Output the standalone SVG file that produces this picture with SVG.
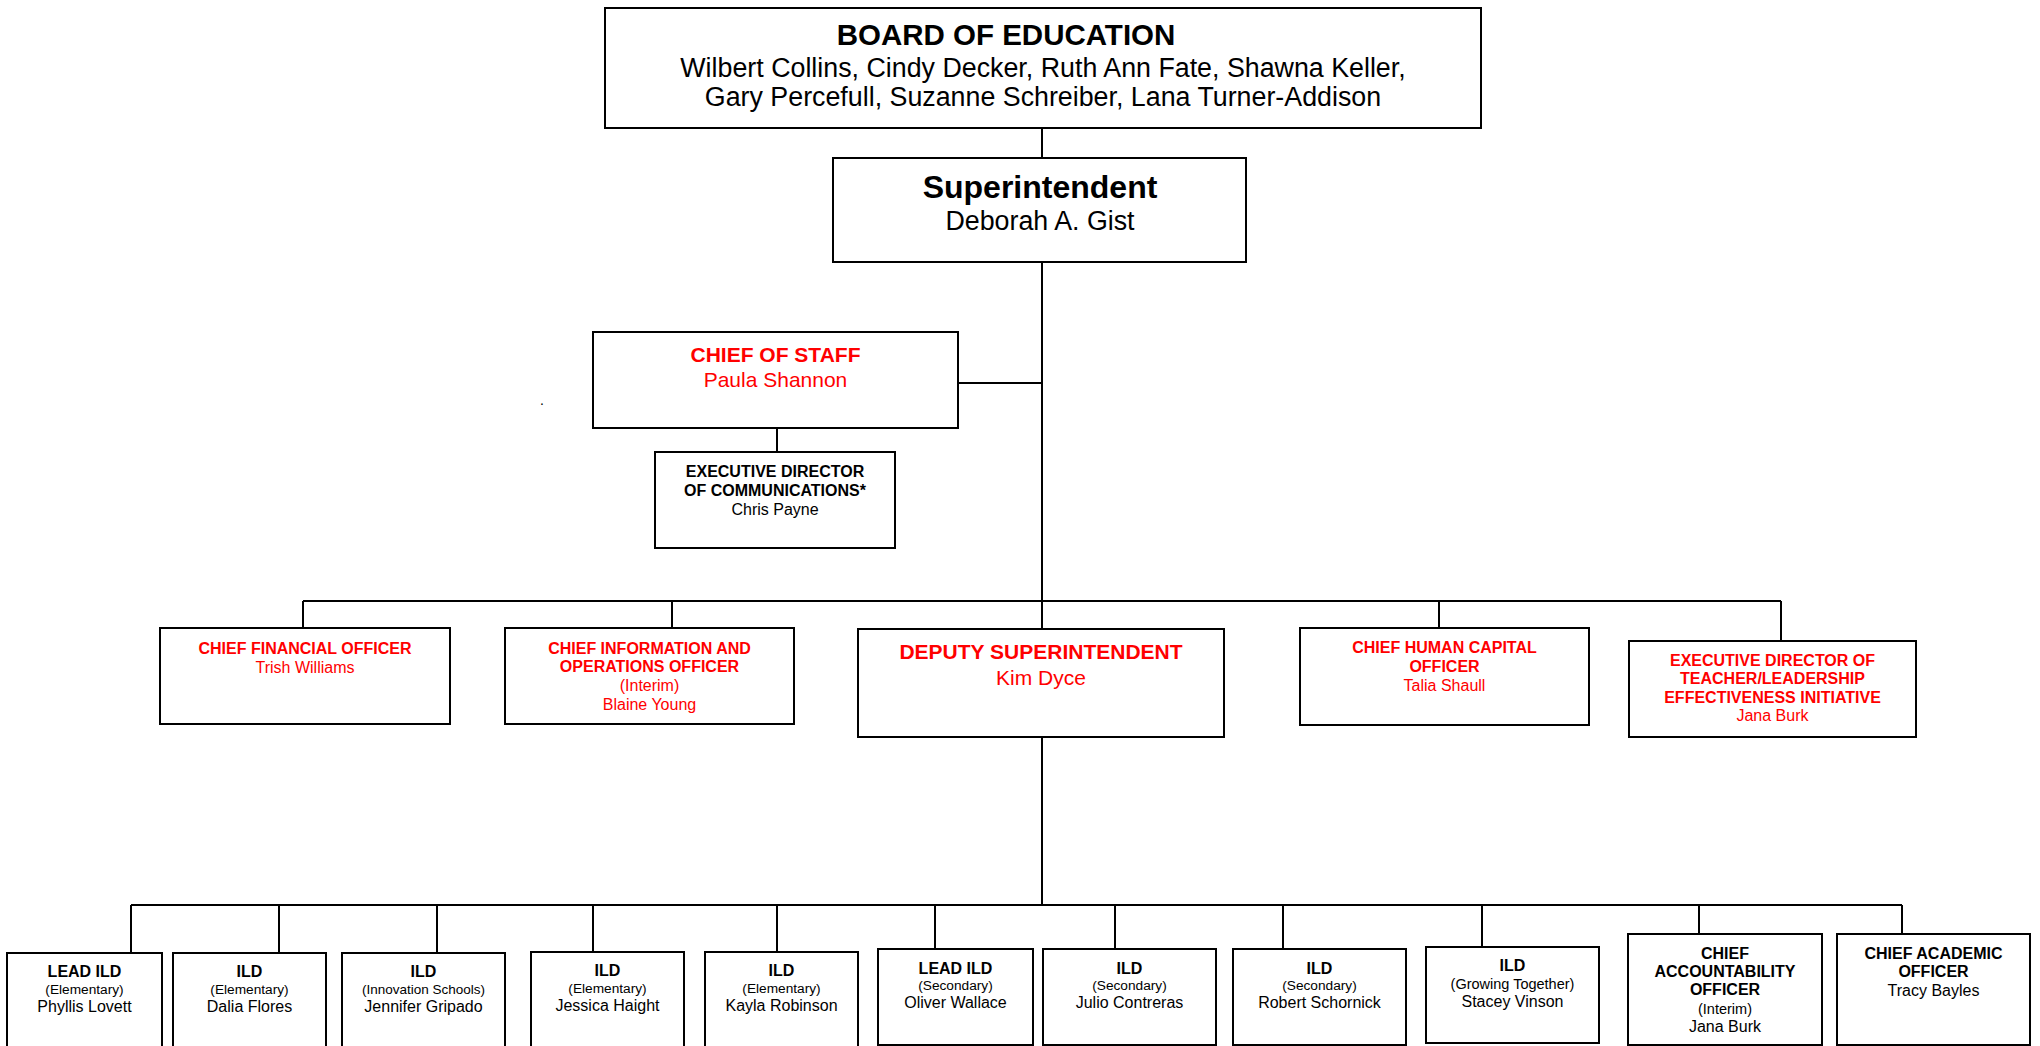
<svg xmlns="http://www.w3.org/2000/svg" width="2040" height="1046" viewBox="0 0 2040 1046">
<style>
.box{fill:#fff;stroke:#000;stroke-width:2}
.ln{stroke:#000;stroke-width:2;fill:none}
text{font-family:"Liberation Sans",Arial,sans-serif;text-anchor:middle;fill:#000}
.r{fill:#ff0000}
.b{font-weight:bold}
.t16{font-size:16px}
.t13{font-size:13.7px}
.t21{font-size:21px}
</style>
<rect width="2040" height="1046" fill="#fff"/>
<g id="connectors">
<path class="ln" d="M1042 128V158M1042 262V629M958 383H1042M777 428V452"/>
<path class="ln" d="M303 601H1781M303 601V628M672 601V628M1439 601V628M1781 601V641"/>
<path class="ln" d="M1042 737V905M131 905H1902"/>
<path class="ln" d="M131 905V953M279 905V953M437 905V953M593 905V952M777 905V952M935 905V949M1115 905V949M1283 905V949M1482 905V947M1699 905V934M1902 905V934"/>
</g>
<g id="board">
<rect class="box" x="605" y="8" width="876" height="120"/>
<text x="1006" y="45" class="b" font-size="29.5">BOARD OF EDUCATION</text>
<text x="1043" y="77" font-size="26.8">Wilbert Collins, Cindy Decker, Ruth Ann Fate, Shawna Keller,</text>
<text x="1043" y="106" font-size="26.8">Gary Percefull, Suzanne Schreiber, Lana Turner-Addison</text>
</g>
<g id="superintendent">
<rect class="box" x="833" y="158" width="413" height="104"/>
<text x="1040" y="198" class="b" font-size="32">Superintendent</text>
<text x="1040" y="230" font-size="26.8">Deborah A. Gist</text>
</g>
<g id="chief-of-staff">
<rect class="box" x="593" y="332" width="365" height="96"/>
<text x="775.5" y="362" class="b t21 r">CHIEF OF STAFF</text>
<text x="775.5" y="387" class="t21 r">Paula Shannon</text>
</g>
<text x="542" y="405" font-size="14">.</text>
<g id="exec-dir-communications">
<rect class="box" x="655" y="452" width="240" height="96"/>
<text x="775" y="477" class="b t16">EXECUTIVE DIRECTOR</text>
<text x="775" y="496" class="b t16">OF COMMUNICATIONS*</text>
<text x="775" y="515" class="t16">Chris Payne</text>
</g>
<g id="cfo">
<rect class="box" x="160" y="628" width="290" height="96"/>
<text x="305" y="654" class="b t16 r">CHIEF FINANCIAL OFFICER</text>
<text x="305" y="673" class="t16 r">Trish Williams</text>
</g>
<g id="cioo">
<rect class="box" x="505" y="628" width="289" height="96"/>
<text x="649.5" y="654" class="b t16 r">CHIEF INFORMATION AND</text>
<text x="649.5" y="672" class="b t16 r">OPERATIONS OFFICER</text>
<text x="649.5" y="691" class="t16 r">(Interim)</text>
<text x="649.5" y="710" class="t16 r">Blaine Young</text>
</g>
<g id="deputy">
<rect class="box" x="858" y="629" width="366" height="108"/>
<text x="1041" y="659" class="b t21 r">DEPUTY SUPERINTENDENT</text>
<text x="1041" y="685" class="t21 r">Kim Dyce</text>
</g>
<g id="chco">
<rect class="box" x="1300" y="628" width="289" height="97"/>
<text x="1444.5" y="653" class="b t16 r">CHIEF HUMAN CAPITAL</text>
<text x="1444.5" y="672" class="b t16 r">OFFICER</text>
<text x="1444.5" y="691" class="t16 r">Talia Shaull</text>
</g>
<g id="exec-dir-tle">
<rect class="box" x="1629" y="641" width="287" height="96"/>
<text x="1772.5" y="666" class="b t16 r">EXECUTIVE DIRECTOR OF</text>
<text x="1772.5" y="684" class="b t16 r">TEACHER/LEADERSHIP</text>
<text x="1772.5" y="703" class="b t16 r">EFFECTIVENESS INITIATIVE</text>
<text x="1772.5" y="721" class="t16 r">Jana Burk</text>
</g>
<g id="ild-lovett">
<rect class="box" x="7" y="953" width="155" height="100"/>
<text x="84.5" y="977" class="b t16">LEAD ILD</text>
<text x="84.5" y="994" class="t13">(Elementary)</text>
<text x="84.5" y="1012" class="t16">Phyllis Lovett</text>
</g>
<g id="ild-flores">
<rect class="box" x="173" y="953" width="153" height="100"/>
<text x="249.5" y="977" class="b t16">ILD</text>
<text x="249.5" y="994" class="t13">(Elementary)</text>
<text x="249.5" y="1012" class="t16">Dalia Flores</text>
</g>
<g id="ild-gripado">
<rect class="box" x="342" y="953" width="163" height="100"/>
<text x="423.5" y="977" class="b t16">ILD</text>
<text x="423.5" y="994" font-size="13.5">(Innovation Schools)</text>
<text x="423.5" y="1012" class="t16">Jennifer Gripado</text>
</g>
<g id="ild-haight">
<rect class="box" x="531" y="952" width="153" height="100"/>
<text x="607.5" y="976" class="b t16">ILD</text>
<text x="607.5" y="993" class="t13">(Elementary)</text>
<text x="607.5" y="1011" class="t16">Jessica Haight</text>
</g>
<g id="ild-robinson">
<rect class="box" x="705" y="952" width="153" height="100"/>
<text x="781.5" y="976" class="b t16">ILD</text>
<text x="781.5" y="993" class="t13">(Elementary)</text>
<text x="781.5" y="1011" class="t16">Kayla Robinson</text>
</g>
<g id="ild-wallace">
<rect class="box" x="878" y="949" width="155" height="96"/>
<text x="955.5" y="974" class="b t16">LEAD ILD</text>
<text x="955.5" y="990" class="t13">(Secondary)</text>
<text x="955.5" y="1008" class="t16">Oliver Wallace</text>
</g>
<g id="ild-contreras">
<rect class="box" x="1043" y="949" width="173" height="96"/>
<text x="1129.5" y="974" class="b t16">ILD</text>
<text x="1129.5" y="990" class="t13">(Secondary)</text>
<text x="1129.5" y="1008" class="t16">Julio Contreras</text>
</g>
<g id="ild-schornick">
<rect class="box" x="1233" y="949" width="173" height="96"/>
<text x="1319.5" y="974" class="b t16">ILD</text>
<text x="1319.5" y="990" class="t13">(Secondary)</text>
<text x="1319.5" y="1008" class="t16">Robert Schornick</text>
</g>
<g id="ild-vinson">
<rect class="box" x="1426" y="947" width="173" height="96"/>
<text x="1512.5" y="971" class="b t16">ILD</text>
<text x="1512.5" y="989" font-size="14.5">(Growing Together)</text>
<text x="1512.5" y="1007" class="t16">Stacey Vinson</text>
</g>
<g id="chief-accountability">
<rect class="box" x="1628" y="934" width="194" height="111"/>
<text x="1725" y="959" class="b t16">CHIEF</text>
<text x="1725" y="977" class="b t16">ACCOUNTABILITY</text>
<text x="1725" y="995" class="b t16">OFFICER</text>
<text x="1725" y="1014" font-size="14.5">(Interim)</text>
<text x="1725" y="1032" class="t16">Jana Burk</text>
</g>
<g id="chief-academic">
<rect class="box" x="1837" y="934" width="193" height="111"/>
<text x="1933.5" y="959" class="b t16">CHIEF ACADEMIC</text>
<text x="1933.5" y="977" class="b t16">OFFICER</text>
<text x="1933.5" y="996" class="t16">Tracy Bayles</text>
</g>
</svg>
